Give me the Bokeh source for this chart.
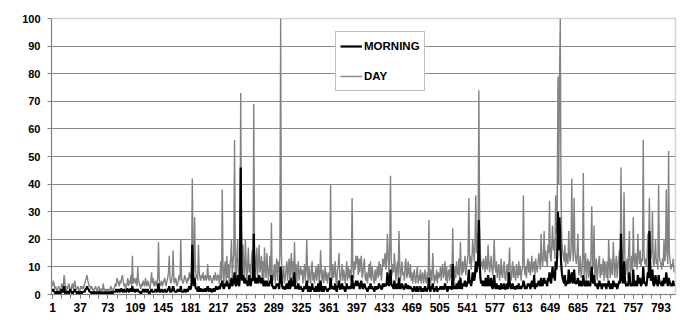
from bokeh.plotting import figure
from bokeh.models import FixedTicker, Legend, LegendItem, Range1d, ColumnDataSource
from bokeh.embed import file_html
from bokeh.resources import INLINE

DAY = (
    [3,5,4,2,3,2,1,2,3,2,1,2,4,3,2,7,5,2,1,3,2,4,3,2,1,3,4,2,3,5,3,2,2,3,2,1]
    + [2,3,2,3,2,3,4,5,6,7,5,4,3,3,2,3,2,1,2,2,3,2,1,2,3,2,1,2,2,1,4,2,1,2,1,2]
    + [1,2,1,2,3,2,1,2,2,3,4,3,6,5,4,3,5,4,6,7,5,3,4,2,3,4,6,3,5,4,7,3,14,4,6,5]
    + [4,6,3,10,5,4,3,2,4,3,5,4,3,6,4,3,5,4,3,2,5,8,4,6,3,4,5,3,4,6,19,5,3,4,5,3]
    + [4,5,6,4,3,5,6,8,14,6,4,5,7,16,5,4,6,5,3,4,6,7,5,20,6,5,4,5,7,6,5,4,6,5,8,6]
    + [6,9,42,12,8,28,10,6,7,5,18,8,6,5,7,6,8,5,6,7,5,6,11,6,5,7,6,5,4,6,7,5,8,6,5,7]
    + [7,4,6,12,5,38,9,4,10,12,5,14,6,11,4,10,13,20,6,12,15,56,8,5,14,20,7,4,13,73,22,6,18,9,5,20]
    + [12,6,10,17,8,11,5,13,16,7,69,14,6,12,17,5,13,18,8,10,14,6,12,5,17,9,6,15,10,5,8,14,6,26,7,5]
    + [8,11,4,10,13,5,12,8,14,100,15,5,7,10,4,6,9,12,5,10,13,4,11,15,6,12,5,19,8,11,4,9,12,5,8,10]
    + [7,9,4,8,11,5,9,20,8,4,10,7,4,9,12,5,8,4,7,10,5,9,11,4,7,16,8,5,9,4,7,10,5,8,4,7]
    + [8,5,40,9,5,11,6,8,12,5,4,9,10,15,6,5,8,11,5,9,7,4,8,12,5,10,6,9,5,8,35,10,6,12,9,14]
    + [11,14,7,13,8,12,14,6,7,11,13,6,5,8,4,7,11,6,12,5,10,8,5,4,9,5,8,10,6,12,7,11,5,8,13,10]
    + [12,15,9,13,22,14,8,16,43,12,7,11,8,15,10,5,9,12,6,23,11,5,9,12,7,8,5,11,13,6,7,12,8,6,11,5]
    + [8,4,7,9,5,4,8,10,4,7,5,9,4,7,8,4,6,9,5,4,8,5,27,7,4,9,5,15,8,4,7,5,9,4,8,6]
    + [7,10,5,9,11,6,8,12,5,10,4,8,9,5,11,6,8,24,9,5,10,6,12,8,7,13,6,19,10,7,12,8,11,14,7,10]
    + [12,15,35,11,14,9,13,20,16,12,18,36,15,22,19,74,25,14,10,12,9,13,11,8,14,10,9,18,12,8,11,14,9,7,12,20]
    + [10,8,12,6,9,11,5,8,13,7,6,10,12,6,5,9,11,6,10,17,7,5,9,12,6,10,7,5,11,8,6,12,7,10,5,9]
    + [9,36,12,7,10,6,11,13,8,12,7,10,14,8,11,12,7,13,10,8,11,15,12,9,22,13,10,14,23,12,16,13,10,18,15,34]
    + [14,12,18,25,16,20,13,36,22,30,79,40,78,100,35,20,16,14,12,18,10,15,13,11,23,14,12,16,42,18,12,35,16,13,11,15]
    + [22,7,9,14,6,8,13,44,7,10,15,5,11,13,6,12,7,16,32,9,11,25,6,9,13,5,8,12,14,6,11,7,10,13,5,12]
    + [10,6,12,5,20,11,6,13,8,7,19,12,6,11,14,6,10,13,16,7,46,18,9,11,37,15,7,10,13,6,16,23,8,10,14,6]
    + [28,13,10,15,12,9,22,14,11,16,10,13,12,56,15,11,13,10,14,22,16,35,18,13,15,30,12,10,14,20,11,13,9,40,14,12]
    + [11,9,13,10,20,12,14,38,16,11,52,15,12,9,11,10,13,8]
)

MORNING = (
    [1,2,1,1,0,1,1,0,1,1,0,1,2,1,1,3,1,0,1,1,1,0,1,2,1,1,0,1,1,2,1,1,0,1,1,0]
    + [1,1,0,1,1,1,1,2,2,3,2,2,1,1,1,0,1,0,1,1,0,1,0,0,1,1,0,0,1,0,1,0,0,1,0,1]
    + [0,1,0,0,1,1,0,1,1,1,1,2,1,1,2,1,1,2,2,1,1,2,1,1,1,2,2,1,1,2,2,1,3,1,2,1]
    + [1,2,1,2,1,1,1,0,1,1,2,1,1,2,1,1,2,1,0,1,1,2,1,1,1,1,2,1,1,2,4,1,1,1,2,1]
    + [1,1,2,1,1,1,2,2,3,1,1,1,2,3,2,1,1,1,1,2,1,2,1,3,1,1,1,1,2,1,1,2,1,2,3,2]
    + [2,4,18,8,3,6,3,2,2,1,3,2,1,2,2,1,2,1,2,2,1,2,3,2,1,2,2,1,1,2,2,1,2,3,2,2]
    + [2,3,2,4,3,5,3,2,3,4,3,5,3,4,2,3,4,6,3,4,5,8,4,3,5,7,4,3,6,46,9,5,7,5,4,6]
    + [4,5,3,5,7,4,3,5,6,5,22,6,4,5,6,4,5,7,6,4,5,6,4,3,5,3,4,5,3,4,3,5,4,7,3,3]
    + [2,3,2,3,4,3,4,2,5,10,6,3,2,3,2,2,3,4,2,3,5,2,3,6,3,4,3,8,2,3,2,3,4,2,2,3]
    + [2,2,1,2,3,2,3,5,2,1,3,2,1,2,4,2,2,1,2,3,1,2,4,1,2,5,2,1,3,1,2,3,2,2,1,2]
    + [2,2,6,3,2,3,2,2,4,2,1,3,3,5,2,2,3,4,2,3,2,1,2,4,2,3,2,3,2,3,7,3,2,4,3,5]
    + [3,5,3,4,2,4,5,3,2,3,4,3,2,2,1,2,3,2,4,2,3,2,2,1,3,2,2,3,2,4,3,3,2,2,4,3]
    + [3,4,3,4,8,5,3,5,9,4,3,3,2,5,3,2,3,4,2,6,3,2,3,4,3,2,2,3,4,3,2,3,3,2,3,2]
    + [2,1,2,3,2,1,2,3,1,2,2,3,1,2,2,1,2,3,2,1,2,2,6,2,1,3,2,4,2,1,2,2,3,1,2,2]
    + [2,3,2,2,3,2,2,4,2,3,1,2,3,2,3,2,2,11,3,2,3,2,4,2,3,5,2,6,3,2,4,3,4,5,3,3]
    + [4,5,9,4,5,3,5,8,6,5,7,12,8,10,11,27,12,6,4,5,3,5,4,3,6,4,3,7,5,3,4,6,3,2,4,7]
    + [3,2,4,2,3,3,2,2,4,3,2,3,4,2,2,3,4,2,8,5,3,2,3,4,2,3,2,2,3,3,2,4,2,3,2,3]
    + [3,5,4,2,3,2,3,4,3,4,2,3,5,3,3,7,2,4,3,3,4,5,4,3,6,4,3,5,6,4,5,4,3,6,5,8]
    + [5,4,7,10,6,8,5,12,9,14,30,16,28,20,12,8,6,5,4,7,3,5,4,4,9,5,4,6,8,5,4,9,5,4,4,5]
    + [6,4,3,5,4,3,4,7,4,3,5,3,4,5,3,4,3,6,10,5,4,7,4,3,4,3,2,4,5,3,4,2,3,4,3,4]
    + [3,2,4,3,5,3,2,4,3,2,5,4,3,3,4,2,3,4,5,4,22,7,5,4,12,6,4,3,4,3,5,8,4,3,4,3]
    + [9,4,3,5,4,3,7,5,4,6,3,4,4,10,5,4,4,3,5,8,6,23,12,5,6,9,4,3,5,7,4,4,3,7,5,4]
    + [4,3,5,3,6,4,5,8,5,3,6,5,4,3,4,3,5,3]
)

X_TICKS = [1, 37, 73, 109, 145, 181, 217, 253, 289, 325, 361, 397, 433, 469,
           505, 541, 577, 613, 649, 685, 721, 757, 793]
Y_TICKS = [0, 10, 20, 30, 40, 50, 60, 70, 80, 90, 100]
SERIES = ["MORNING", "DAY"]

n = min(len(DAY), len(MORNING))
idx = list(range(1, n + 1))
src = ColumnDataSource(data=dict(x=idx, day=DAY[:n], morning=MORNING[:n]))

W, H = 680, 320
p = figure(width=W, height=H, output_backend="svg", toolbar_location=None,
           x_range=Range1d(-0.3, 812), y_range=Range1d(0, 100),
           min_border_left=51, min_border_right=5, min_border_top=18,
           min_border_bottom=26, background_fill_color="white",
           border_fill_color="white")

r_d = p.line("x", "day", source=src, line_color="#838383", line_width=1.4)
r_m = p.line("x", "morning", source=src, line_color="black", line_width=2.2)

FONT = "Liberation Sans"
p.xaxis.ticker = FixedTicker(ticks=X_TICKS,
                             minor_ticks=list(range(1, 812, 12)))
p.yaxis.ticker = FixedTicker(ticks=Y_TICKS, minor_ticks=[])
for ax in (p.xaxis[0], p.yaxis[0]):
    ax.axis_line_color = "#808080"
    ax.major_tick_line_color = "#808080"
    ax.minor_tick_line_color = "#808080"
    ax.major_tick_in = 0
    ax.major_tick_out = 4
    ax.minor_tick_in = 0
    ax.major_label_text_font = FONT
    ax.major_label_text_font_style = "bold"
    ax.major_label_text_color = "black"
p.xaxis.minor_tick_out = 4
p.yaxis.minor_tick_out = 0
p.xaxis.major_label_text_font_size = "12px"
p.yaxis.major_label_text_font_size = "11px"
p.xaxis.major_label_standoff = 4
p.yaxis.major_label_standoff = 7

p.xgrid.grid_line_color = None
p.ygrid.grid_line_color = "#8a8a8a"
p.ygrid.grid_line_width = 1
p.outline_line_color = "#d4d4d4"
p.outline_line_width = 1.5

legend = Legend(items=[LegendItem(label=SERIES[0], renderers=[r_m]),
                       LegendItem(label=SERIES[1], renderers=[r_d])],
                location=(284, 203), orientation="vertical")
legend.label_text_font = FONT
legend.label_text_font_style = "bold"
legend.label_text_font_size = "11.5px"
legend.label_text_color = "black"
legend.glyph_width = 22
legend.glyph_height = 20
legend.label_height = 20
legend.spacing = 10
legend.padding = 4
legend.margin = 0
legend.label_standoff = 2
legend.border_line_color = "#808080"
legend.border_line_width = 1
legend.background_fill_color = "white"
legend.background_fill_alpha = 1.0
p.add_layout(legend)

open("out.html", "w").write(file_html(p, INLINE))
